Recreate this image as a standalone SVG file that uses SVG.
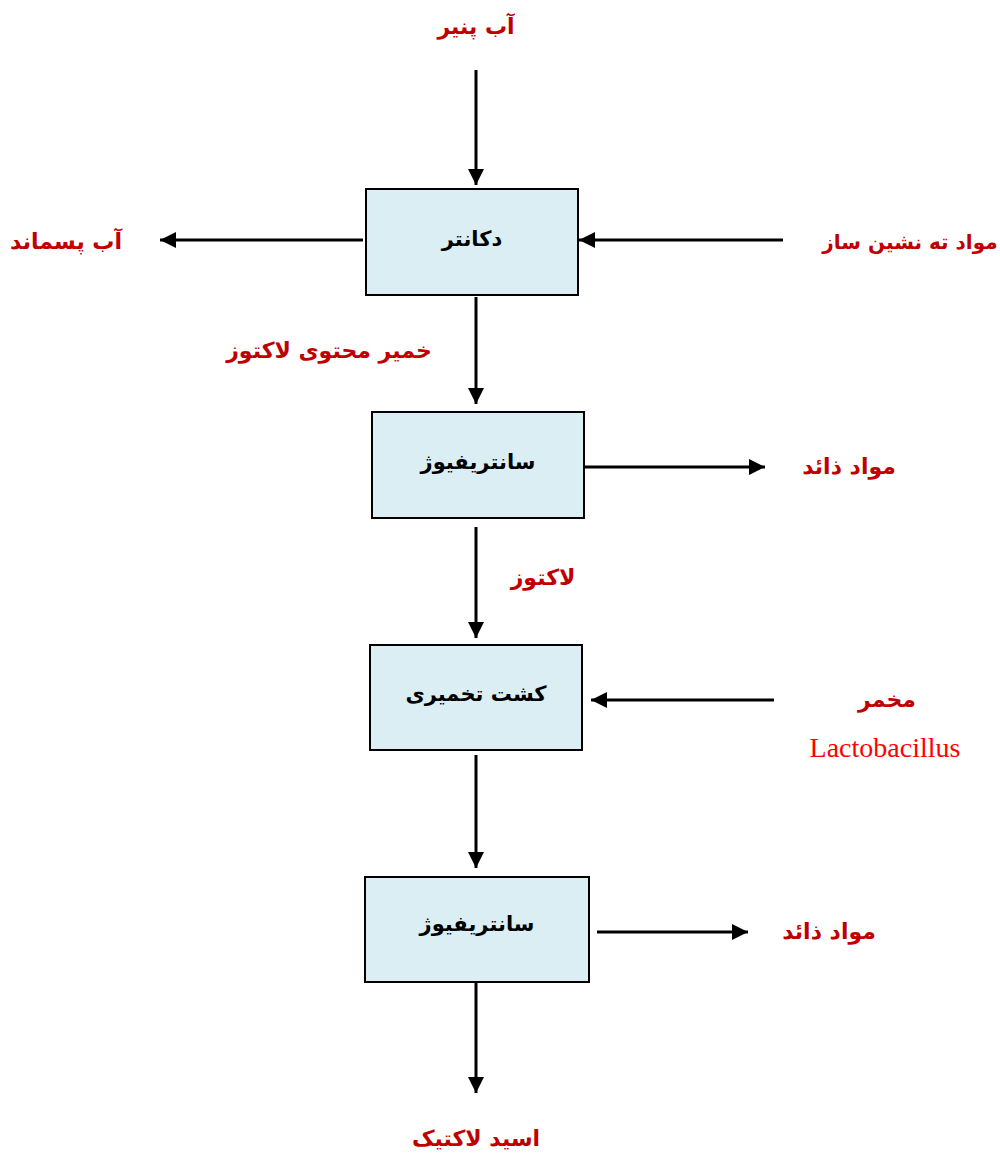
<svg xmlns="http://www.w3.org/2000/svg" width="1000" height="1153" viewBox="0 0 1000 1153">
<defs>
<marker id="ah" viewBox="0 0 10 10" refX="10" refY="5" markerWidth="16" markerHeight="16" markerUnits="userSpaceOnUse" orient="auto">
<path d="M0,0 L10,5 L0,10 z" fill="#000"/>
</marker>
<style>
.box{fill:#DAEEF3;stroke:#000;stroke-width:2}
.bt{font-family:"DejaVu Sans","Noto Sans",sans-serif;font-weight:bold;font-size:21px;fill:#000;text-anchor:middle}
.lb{font-family:"DejaVu Sans","Noto Sans",sans-serif;font-weight:bold;font-size:22px;fill:#C00000;text-anchor:middle}
.en{font-family:"Liberation Serif",serif;font-size:28px;fill:#FF0000;text-anchor:middle}
.c{stroke:#000;stroke-width:3;fill:none;marker-end:url(#ah)}
</style>
</defs>
<rect width="1000" height="1153" fill="#fff"/>
<g id="connectors">
<line class="c" x1="476" y1="70" x2="476" y2="185"/>
<line class="c" x1="363" y1="240" x2="160" y2="240"/>
<line class="c" x1="783" y1="240" x2="579" y2="240"/>
<line class="c" x1="476" y1="297" x2="476" y2="404"/>
<line class="c" x1="584" y1="467" x2="765" y2="467"/>
<line class="c" x1="476" y1="527" x2="476" y2="638"/>
<line class="c" x1="774" y1="700" x2="591" y2="700"/>
<line class="c" x1="476" y1="755" x2="476" y2="868"/>
<line class="c" x1="597" y1="932" x2="748" y2="932"/>
<line class="c" x1="476" y1="982" x2="476" y2="1093"/>
</g>
<g id="decanter">
<rect class="box" x="366" y="189" width="212" height="106"/>
<text class="bt" x="472" y="246">دکانتر</text>
</g>
<g id="centrifuge1">
<rect class="box" x="372" y="412" width="212" height="106"/>
<text class="bt" x="478" y="469">سانتریفیوژ</text>
</g>
<g id="fermentation">
<rect class="box" x="370" y="645" width="212" height="105"/>
<text class="bt" x="476" y="701">کشت تخمیری</text>
</g>
<g id="centrifuge2">
<rect class="box" x="365" y="877" width="224" height="105"/>
<text class="bt" x="477" y="931">سانتریفیوژ</text>
</g>
<g id="labels">
<text class="lb" x="476" y="34">آب پنیر</text>
<text class="lb" x="66" y="249">آب پسماند</text>
<text class="lb" x="910" y="249" style="font-size:20px">مواد ته نشین ساز</text>
<text class="lb" x="329" y="358">خمیر محتوی لاکتوز</text>
<text class="lb" x="849" y="474">مواد ذائد</text>
<text class="lb" x="543" y="585">لاکتوز</text>
<text class="lb" x="887" y="707">مخمر</text>
<text class="en" x="885" y="757">Lactobacillus</text>
<text class="lb" x="829" y="939">مواد ذائد</text>
<text class="lb" x="476" y="1146">اسید لاکتیک</text>
</g>
</svg>
